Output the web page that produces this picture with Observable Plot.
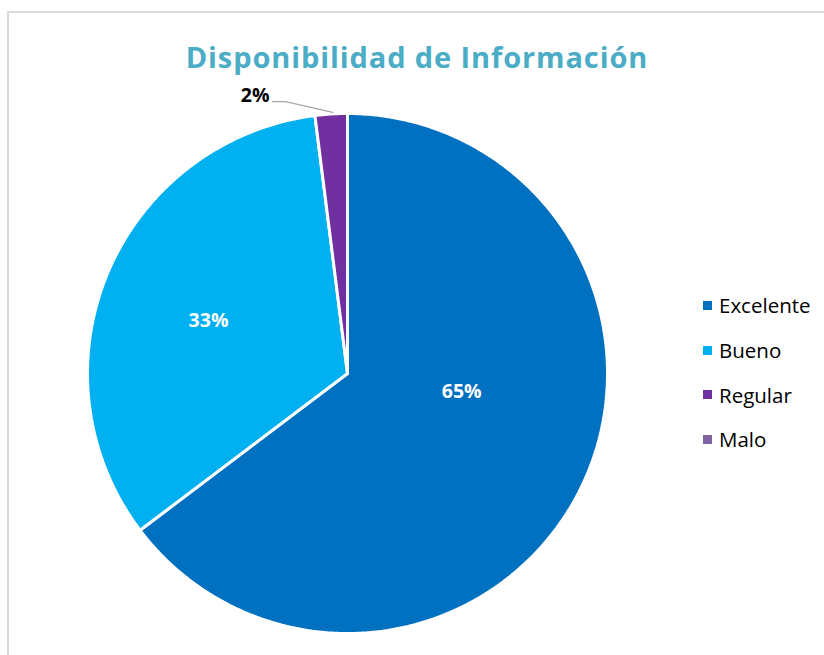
<!DOCTYPE html>
<html><head><meta charset="utf-8">
<script src="https://cdn.jsdelivr.net/npm/d3@7"></script>
<script src="https://cdn.jsdelivr.net/npm/@observablehq/plot@0.6"></script>
<style>
body{margin:0;background:#fff;}
#wrap{position:relative;width:824px;height:655px;overflow:hidden;font-family:"Open Sans",Lato,sans-serif;}
#border{position:absolute;left:7px;top:11px;width:900px;height:900px;border:2px solid #d9d9d9;box-sizing:border-box;}
#title{position:absolute;top:37px;left:5px;width:824px;text-align:center;font-size:29px;letter-spacing:0.9px;line-height:1.362;font-weight:bold;color:#4BACC6;white-space:nowrap;}
#plot{position:absolute;left:0;top:0;}
#legend{position:absolute;left:703px;top:283px;}
.item{display:flex;align-items:center;height:44.7px;font-size:20.5px;color:#000;}
.sw{width:9px;height:9px;margin-right:7px;}
</style></head>
<body>
<div id="wrap">
  <div id="border"></div>
  <div id="plot"></div>
  <div id="title"></div>
  <div id="legend"></div>
</div>
<script>
const title = "Disponibilidad de Información";
const categories = ["Excelente", "Bueno", "Regular", "Malo"];
const values = [64.7, 33.3, 2.0, 0];
const labels = ["65%", "33%", "2%", ""];
const colors = ["#0070C0", "#00B0F0", "#7030A0", "#8064A2"];

document.getElementById("title").textContent = title;

// pie geometry from the data
const arcs = d3.pie().sort(null).value(d => d.value)(categories.map((c, i) => ({cat: c, value: values[i], label: labels[i]})));
const pts = [];
for (const a of arcs) {
  if (a.endAngle - a.startAngle <= 0) continue;
  pts.push({cat: a.data.cat, x: 0, y: 0});
  const n = Math.max(2, Math.ceil((a.endAngle - a.startAngle) / 0.01));
  for (let k = 0; k <= n; k++) {
    const t = a.startAngle + (a.endAngle - a.startAngle) * k / n;
    pts.push({cat: a.data.cat, x: Math.sin(t), y: Math.cos(t)});
  }
  pts.push({cat: a.data.cat, x: 0, y: 0});
}

// label placement (angle in radians clockwise from top, radius fraction)
const place = {Excelente: [1.73, 0.445], Bueno: [5.077, 0.572]};
const inside = [], outside = [], leaders = [];
for (const a of arcs) {
  if (!a.data.label) continue;
  const mid = (a.startAngle + a.endAngle) / 2;
  if (place[a.data.cat]) {
    const [ang, r] = place[a.data.cat];
    const t = ang ?? mid;
    inside.push({x: r * Math.sin(t), y: r * Math.cos(t), label: a.data.label});
  } else {
    const sx = 0.985 * Math.sin(mid) + 0.005, sy = 1.004;
    leaders.push({x: sx, y: sy}, {x: -0.238, y: 1.046}, {x: -0.288, y: 1.046});
    outside.push({x: -0.30, y: 1.068, label: a.data.label});
  }
}

const chart = Plot.plot({
  width: 824, height: 655,
  marginLeft: 87, marginRight: 217, marginTop: 113, marginBottom: 22,
  x: {domain: [-1, 1], axis: null},
  y: {domain: [-1, 1], axis: null},
  color: {domain: categories, range: colors},
  style: {background: "transparent", fontFamily: "'Open Sans', Lato, sans-serif"},
  marks: [
    Plot.line(pts, {x: "x", y: "y", z: "cat", fill: "cat", stroke: "white", strokeWidth: 3, strokeLinejoin: "miter", curve: "linear"}),
    Plot.line(leaders, {x: "x", y: "y", stroke: "#a6a6a6", strokeWidth: 1.3}),
    Plot.text(inside, {x: "x", y: "y", text: "label", fill: "white", fontSize: 19.5, fontWeight: "bold"}),
    Plot.text(outside, {x: "x", y: "y", text: "label", fill: "black", fontSize: 19.5, fontWeight: "bold", textAnchor: "end"})
  ]
});
document.getElementById("plot").appendChild(chart);

const leg = document.getElementById("legend");
categories.forEach((c, i) => {
  const it = document.createElement("div"); it.className = "item";
  const sw = document.createElement("div"); sw.className = "sw"; sw.style.background = colors[i];
  const tx = document.createElement("span"); tx.textContent = c;
  it.appendChild(sw); it.appendChild(tx); leg.appendChild(it);
});
</script>
</body></html>
